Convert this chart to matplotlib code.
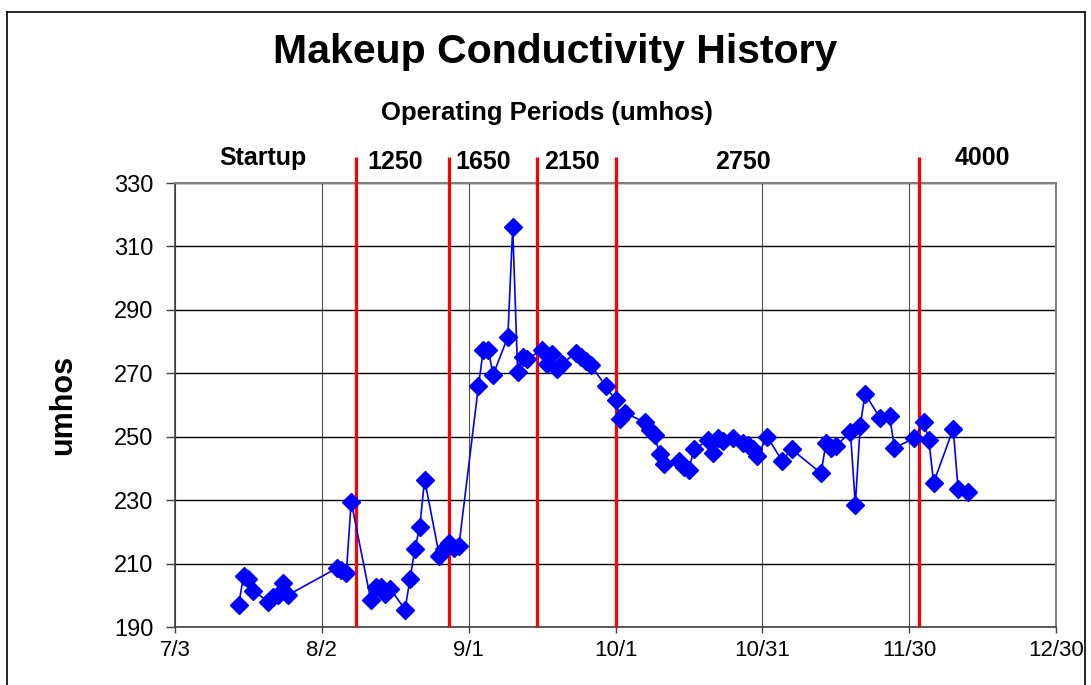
import pandas as pd
import matplotlib
matplotlib.use('Agg')
import matplotlib.pyplot as plt
from matplotlib.lines import Line2D

plt.rcParams['font.family'] = ['Liberation Sans', 'DejaVu Sans']

# readings (month/day) and makeup conductivity in umhos
dates = ['7/16', '7/17', '7/18', '7/19', '7/22', '7/23', '7/24', '7/25', '7/26',
         '8/5', '8/6', '8/7', '8/8', '8/12', '8/13', '8/14', '8/15', '8/16',
         '8/19', '8/20', '8/21', '8/22', '8/23', '8/26', '8/27', '8/28', '8/29', '8/30',
         '9/3', '9/4', '9/5', '9/6', '9/9', '9/10', '9/11', '9/12', '9/13',
         '9/16', '9/17', '9/18', '9/19', '9/20', '9/23', '9/24', '9/25', '9/26', '9/29',
         '10/1', '10/2', '10/3', '10/7', '10/8', '10/9', '10/10', '10/11',
         '10/14', '10/15', '10/16', '10/17', '10/20', '10/21', '10/22', '10/23', '10/25',
         '10/27', '10/28', '10/29', '10/30', '11/1', '11/4', '11/6',
         '11/12', '11/13', '11/14', '11/15', '11/18', '11/19', '11/20', '11/21',
         '11/24', '11/26', '11/27', '12/1', '12/3', '12/4', '12/5', '12/9', '12/10', '12/12']
umhos = [197, 206, 205, 201.5, 198, 199.5, 200, 204, 200,
         208.5, 208, 207, 229.5, 198.5, 202.5, 202.5, 200.5, 202,
         195.5, 205, 214.5, 221.5, 236.5, 212.5, 214.5, 216.5, 215, 215.5,
         266, 277.5, 277.5, 269.5, 281.5, 316, 270.5, 275, 274.5,
         277.5, 273, 276, 271.5, 273, 276.5, 275, 274, 272.5, 266,
         261.5, 255.5, 257.5, 254.5, 252, 250.5, 244.5, 241.5,
         242.5, 240.5, 239.5, 246, 249, 245, 249.5, 248.5, 249.5,
         248, 247.5, 246, 244, 250, 242.5, 246,
         238.5, 248, 246.5, 247, 251.5, 228.5, 253.5, 263.5,
         256, 256.5, 246.5, 249.5, 254.5, 249, 235.5, 252.5, 233.5, 232.5]

# operating period boundaries and labels
period_starts = ['8/9', '8/28', '9/15', '10/1', '12/2']
period_names = ['Startup', '1250', '1650', '2150', '2750', '4000']
period_label_dates = ['7/21', '8/17', '9/4', '9/22', '10/27', '12/15']

tick_dates = ['7/3', '8/2', '9/1', '10/1', '10/31', '11/30', '12/30']
y_ticks = [190, 210, 230, 250, 270, 290, 310, 330]

YEAR = '2005/'
to_dt = lambda lst: pd.to_datetime([YEAR + d for d in lst], format='%Y/%m/%d')

x = to_dt(dates)
xt = to_dt(tick_dates)

fig = plt.figure(figsize=(10.91, 6.85), dpi=100)
ax = fig.add_axes([175 / 1091, 1 - 627 / 685, 881 / 1091, 444 / 685])

ax.plot(x, umhos, color='#0000FF', lw=1.2, marker='D', ms=9,
        mec='#0000FF', mfc='#0000FF', zorder=4)

# red period separators, sticking above the plot area
ax.vlines(to_dt(period_starts), 190, 338.3, colors='#FF0000', lw=2.3,
          clip_on=False, zorder=3)

label_y = [338.0, 336.6, 336.6, 336.6, 336.6, 338.0]
for name, d, yy in zip(period_names, to_dt(period_label_dates), label_y):
    ax.text(d, yy, name, ha='center', va='center', fontsize=18,
            fontweight='bold', clip_on=False)

ax.set_xlim(xt[0], xt[-1])
ax.set_ylim(190, 330)
ax.set_xticks(xt)
ax.set_xticklabels(tick_dates)
ax.set_yticks(y_ticks)

ax.grid(axis='y', color='black', lw=1.0, zorder=0)
ax.grid(axis='x', color='#505050', lw=0.8, zorder=0)
ax.set_axisbelow(True)

for s in ['top', 'right']:
    ax.spines[s].set_color('#808080')
    ax.spines[s].set_linewidth(1.5)
for s in ['left', 'bottom']:
    ax.spines[s].set_color('#404040')
    ax.spines[s].set_linewidth(1.2)

ax.tick_params(axis='y', direction='out', length=6.5, width=1, color='#404040',
               labelsize=17, pad=9)
ax.tick_params(axis='x', direction='out', length=4.5, width=1, color='#404040',
               labelsize=16, pad=5)

ax.set_ylabel('umhos', fontsize=22, fontweight='bold', labelpad=26)

fig.text(555 / 1091, 1 - 52 / 685, 'Makeup Conductivity History',
         ha='center', va='center', fontsize=29.5, fontweight='bold')
fig.text(547 / 1091, 1 - 113 / 685, 'Operating Periods (umhos)',
         ha='center', va='center', fontsize=18.5, fontweight='bold')

# outer chart border
fig.add_artist(Line2D([7 / 1091, 7 / 1091], [0, 1 - 12 / 685], color='black', lw=1.2))
fig.add_artist(Line2D([7 / 1091, 1085 / 1091], [1 - 12 / 685, 1 - 12 / 685], color='black', lw=1.2))
fig.add_artist(Line2D([1085 / 1091, 1085 / 1091], [0, 1 - 12 / 685], color='black', lw=1.2))

fig.savefig('out.png', dpi=100)
